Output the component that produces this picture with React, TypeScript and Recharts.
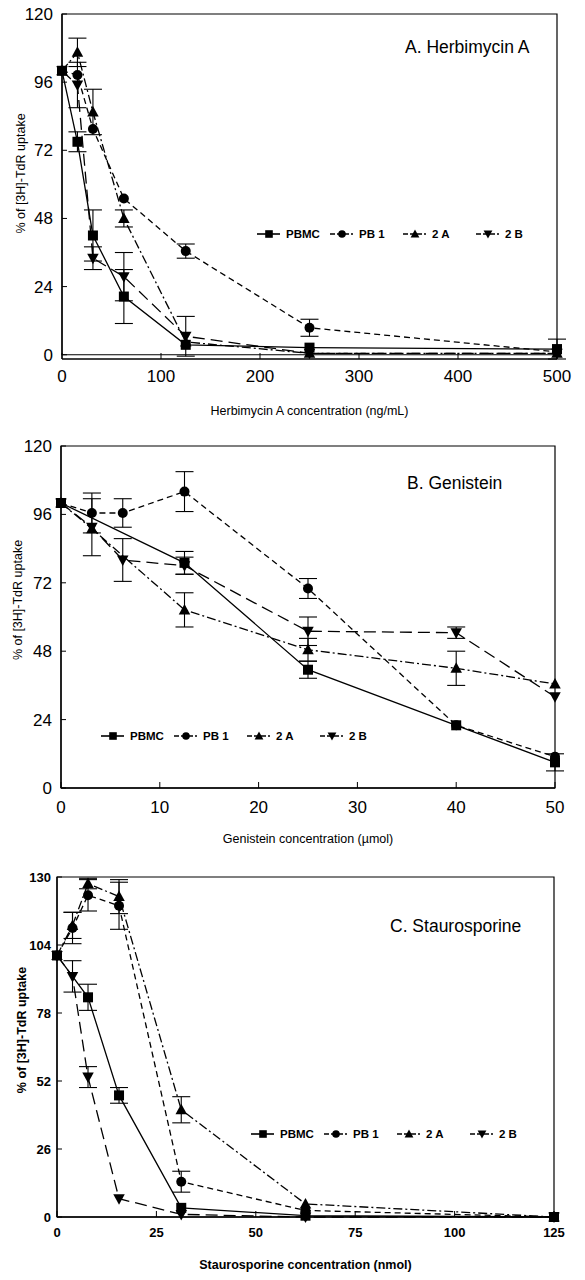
import React from 'react';
import { LineChart, Line, XAxis, YAxis, ErrorBar, Legend, ReferenceArea, Label } from 'recharts';

// A. Herbimycin A (ng/mL)
const herbDose = [0, 15.6, 31.25, 62.5, 125, 250, 500];
const herbPBMC = [100, 75, 42, 20.5, 3.5, 2.5, 2];
const herbPBMCErr = [0, 3.5, 9, 9.5, 0, 0, 3.5];
const herbPB1 = [100, 98.5, 79.5, 55, 36.5, 9.5, 1];
const herbPB1Err = [0, 0, 0, 0, 2.5, 3, 0];
const herb2A = [100, 106.5, 85.5, 48, 4.5, 0.5, 0.5];
const herb2AErr = [0, 5, 8, 3, 0, 0, 0];
const herb2B = [100, 95, 34, 27.5, 6.5, 0.5, 0.5];
const herb2BErr = [0, 8, 4, 8.5, 7, 0, 0];

// B. Genistein (umol)
const genDose = [0, 3.125, 6.25, 12.5, 25, 40, 50];
const genPBMC = [100, null, null, 79, 41.5, 22, 9];
const genPBMCErr = [0, 0, 0, 4, 3, 0, 3];
const genPB1 = [100, 96.5, 96.5, 104, 70, 22, 11];
const genPB1Err = [0, 7, 5, 7, 3.5, 0, 0];
const gen2A = [100, 91, null, 62.5, 48.5, 42, 36.5];
const gen2AErr = [0, 0, 0, 6, 4, 6, 0];
const gen2B = [100, 91.5, 80, 78, 55, 54.5, 32];
const gen2BErr = [0, 10, 7.5, 3, 5, 2, 0];

// C. Staurosporine (nmol)
const stauDose = [0, 3.9, 7.8, 15.6, 31.25, 62.5, 125];
const stauPBMC = [100, null, 84, 46.5, 3.5, 0.5, 0];
const stauPBMCErr = [0, 0, 5, 3, 0, 0, 0];
const stauPB1 = [100, 110.5, 123, 119, 13.5, 2.5, 0];
const stauPB1Err = [0, 6, 6, 9, 4, 0, 0];
const stau2A = [100, 111.5, 127.5, 122.5, 41, 5, 0];
const stau2AErr = [0, 5, 2, 6.5, 5, 0, 0];
const stau2B = [100, 92, 53.5, 7, 1, 0, 0];
const stau2BErr = [0, 6, 4, 0, 0, 0, 0];

const herbXTicks = [0, 100, 200, 300, 400, 500];
const genXTicks = [0, 10, 20, 30, 40, 50];
const stauXTicks = [0, 25, 50, 75, 100, 125];
const yTicks120 = [0, 24, 48, 72, 96, 120];
const yTicks130 = [0, 26, 52, 78, 104, 130];

const FONT = '"Liberation Sans", Arial, Helvetica, sans-serif';

type Shape = 'square' | 'circle' | 'up' | 'down';

const seriesStyle: { key: string; name: string; shape: Shape; dash?: string }[] = [
  { key: 'pbmc', name: 'PBMC', shape: 'square' },
  { key: 'pb1', name: 'PB 1', shape: 'circle', dash: '6 4' },
  { key: 'a2', name: '2 A', shape: 'up', dash: '9 3 2 3' },
  { key: 'b2', name: '2 B', shape: 'down', dash: '12 6' },
];

type Col = (number | null)[];

function buildRows(dose: number[], pbmc: Col[], pb1: Col[], a2: Col[], b2: Col[]) {
  return dose.map((x, i) => ({
    x,
    pbmc: pbmc[0][i], pbmcErr: pbmc[1][i],
    pb1: pb1[0][i], pb1Err: pb1[1][i],
    a2: a2[0][i], a2Err: a2[1][i],
    b2: b2[0][i], b2Err: b2[1][i],
  }));
}

const Marker = ({ cx, cy, shape, s = 5 }: { cx?: number; cy?: number; shape: Shape; s?: number }) => {
  if (cx == null || cy == null || isNaN(cy)) return null;
  if (shape === 'square') return <rect x={cx - s} y={cy - s} width={2 * s} height={2 * s} fill="#000" />;
  if (shape === 'circle') return <circle cx={cx} cy={cy} r={s} fill="#000" />;
  const w = s * 1.15;
  if (shape === 'up')
    return <polygon points={`${cx},${cy - s * 1.2} ${cx + w},${cy + s * 0.9} ${cx - w},${cy + s * 0.9}`} fill="#000" />;
  return <polygon points={`${cx - w},${cy - s * 0.9} ${cx + w},${cy - s * 0.9} ${cx},${cy + s * 1.2}`} fill="#000" />;
};

const LegendRow = () => (
  <div style={{ display: 'flex', fontFamily: FONT, fontSize: 11.5, fontWeight: 'bold', color: '#000' }}>
    {seriesStyle.map((s) => (
      <div key={s.key} style={{ display: 'flex', alignItems: 'center', width: 73 }}>
        <svg width={25} height={12}>
          <line x1={1} y1={6} x2={24} y2={6} stroke="#000" strokeWidth={1.6} strokeDasharray={s.dash ? '5 2' : undefined} />
          <Marker cx={13} cy={6} shape={s.shape} s={3.8} />
        </svg>
        <span style={{ marginLeft: 5 }}>{s.name}</span>
      </div>
    ))}
  </div>
);

const YTitle = (props: any) => {
  const vb = props.viewBox || {};
  const cx = props.lx;
  const cy = vb.y + vb.height / 2 + props.shift;
  return (
    <text x={cx} y={cy} transform={`rotate(-90 ${cx} ${cy})`} textAnchor="middle" dominantBaseline="central"
      fontFamily={FONT} fontSize={12.5} fontWeight={props.bold ? 'bold' : 'normal'} fill="#000">
      % of [3H]-TdR uptake
    </text>
  );
};

interface PanelProps {
  rows: any[];
  xTicks: number[];
  yTicks: number[];
  xLabel: string;
  title: string;
  top: number;
  height: number;
  plotTop: number;
  plotLeft: number;
  plotRight: number;
  xAxisHeight: number;
  tickFont: number;
  bold?: boolean;
  xTickMargin: number;
  yTickMargin: number;
  xLabelOffset: number;
  yLabelX: number;
  yLabelShift: number;
  legendLeft: number;
  legendTop: number;
  titleLeft: number;
  titleTop: number;
}

const Panel = (p: PanelProps) => {
  const xMax = p.xTicks[p.xTicks.length - 1];
  const yMax = p.yTicks[p.yTicks.length - 1];
  const tickStyle = { fill: '#000', fontSize: p.tickFont, fontFamily: FONT, fontWeight: p.bold ? 'bold' : 'normal' };
  return (
    <div style={{ position: 'absolute', left: 0, top: p.top, width: 585, height: p.height }}>
      <LineChart width={585} height={p.height} data={p.rows}
        margin={{ top: p.plotTop, right: 585 - p.plotRight, bottom: 0, left: 0 }}>
        <XAxis type="number" dataKey="x" domain={[0, xMax]} ticks={p.xTicks} height={p.xAxisHeight}
          tickSize={-6} tickMargin={p.xTickMargin} axisLine={{ stroke: '#000', strokeWidth: 1.3 }}
          tickLine={{ stroke: '#000' }} tick={tickStyle}>
          <Label value={p.xLabel} position="insideBottom" offset={p.xLabelOffset} fill="#000"
            fontFamily={FONT} fontSize={12.5} fontWeight={p.bold ? 'bold' : 'normal'} />
        </XAxis>
        <YAxis type="number" domain={[0, yMax]} ticks={p.yTicks} width={p.plotLeft}
          tickSize={-5} tickMargin={p.yTickMargin} axisLine={{ stroke: '#000', strokeWidth: 1.3 }}
          tickLine={{ stroke: '#000' }} tick={tickStyle}>
          <Label content={(lp: any) => <YTitle {...lp} lx={p.yLabelX} shift={p.yLabelShift} bold={p.bold} />} />
        </YAxis>
        <ReferenceArea x1={0} x2={xMax} y1={0} y2={yMax} fill="none" stroke="#000" strokeWidth={1.2} />
        <Legend layout="horizontal" verticalAlign="middle" align="center"
          wrapperStyle={{ left: p.legendLeft, top: p.legendTop, width: 'auto' }}
          content={() => <LegendRow />} />
        {seriesStyle.map((s) => (
          <Line key={s.key} dataKey={s.key} name={s.name} stroke="#000" strokeWidth={1.3}
            strokeDasharray={s.dash} activeDot={false} isAnimationActive={false} connectNulls
            dot={(dp: any) => <Marker key={`${s.key}-${dp.index}`} cx={dp.cx} cy={dp.value == null ? undefined : dp.cy} shape={s.shape} />}>
            <ErrorBar dataKey={`${s.key}Err`} width={9} stroke="#000" strokeWidth={1.1} direction="y" />
          </Line>
        ))}
      </LineChart>
      <div style={{ position: 'absolute', left: p.titleLeft, top: p.titleTop, fontFamily: FONT, fontSize: 17.5, color: '#000', whiteSpace: 'nowrap' }}>
        {p.title}
      </div>
    </div>
  );
};

const herbRows = buildRows(herbDose, [herbPBMC, herbPBMCErr], [herbPB1, herbPB1Err], [herb2A, herb2AErr], [herb2B, herb2BErr]);
const genRows = buildRows(genDose, [genPBMC, genPBMCErr], [genPB1, genPB1Err], [gen2A, gen2AErr], [gen2B, gen2BErr]);
const stauRows = buildRows(stauDose, [stauPBMC, stauPBMCErr], [stauPB1, stauPB1Err], [stau2A, stau2AErr], [stau2B, stau2BErr]);

export default function App() {
  return (
    <div style={{ position: 'absolute', left: 0, top: 0, width: 585, height: 1280, background: '#fff' }}>
      <Panel rows={herbRows} xTicks={herbXTicks} yTicks={yTicks120}
        xLabel="Herbimycin A concentration (ng/mL)" title="A.  Herbimycin A"
        top={0} height={420} plotTop={14} plotLeft={62} plotRight={557} xAxisHeight={61}
        tickFont={17} xTickMargin={17} yTickMargin={14} xLabelOffset={5}
        yLabelX={21} yLabelShift={-13} legendLeft={256} legendTop={228} titleLeft={405} titleTop={37} />
      <Panel rows={genRows} xTicks={genXTicks} yTicks={yTicks120}
        xLabel="Genistein concentration (µmol)" title="B.  Genistein"
        top={420} height={430} plotTop={26} plotLeft={61} plotRight={555} xAxisHeight={62}
        tickFont={17} xTickMargin={19} yTickMargin={14} xLabelOffset={7}
        yLabelX={18} yLabelShift={-17} legendLeft={100} legendTop={310} titleLeft={407} titleTop={53} />
      <Panel rows={stauRows} xTicks={stauXTicks} yTicks={yTicks130}
        xLabel="Staurosporine concentration (nmol)" title="C.  Staurosporine" bold
        top={850} height={430} plotTop={27} plotLeft={57} plotRight={554} xAxisHeight={63}
        tickFont={13} xTickMargin={17} yTickMargin={11} xLabelOffset={11}
        yLabelX={22} yLabelShift={-17} legendLeft={250} legendTop={278} titleLeft={390} titleTop={66} />
    </div>
  );
}
